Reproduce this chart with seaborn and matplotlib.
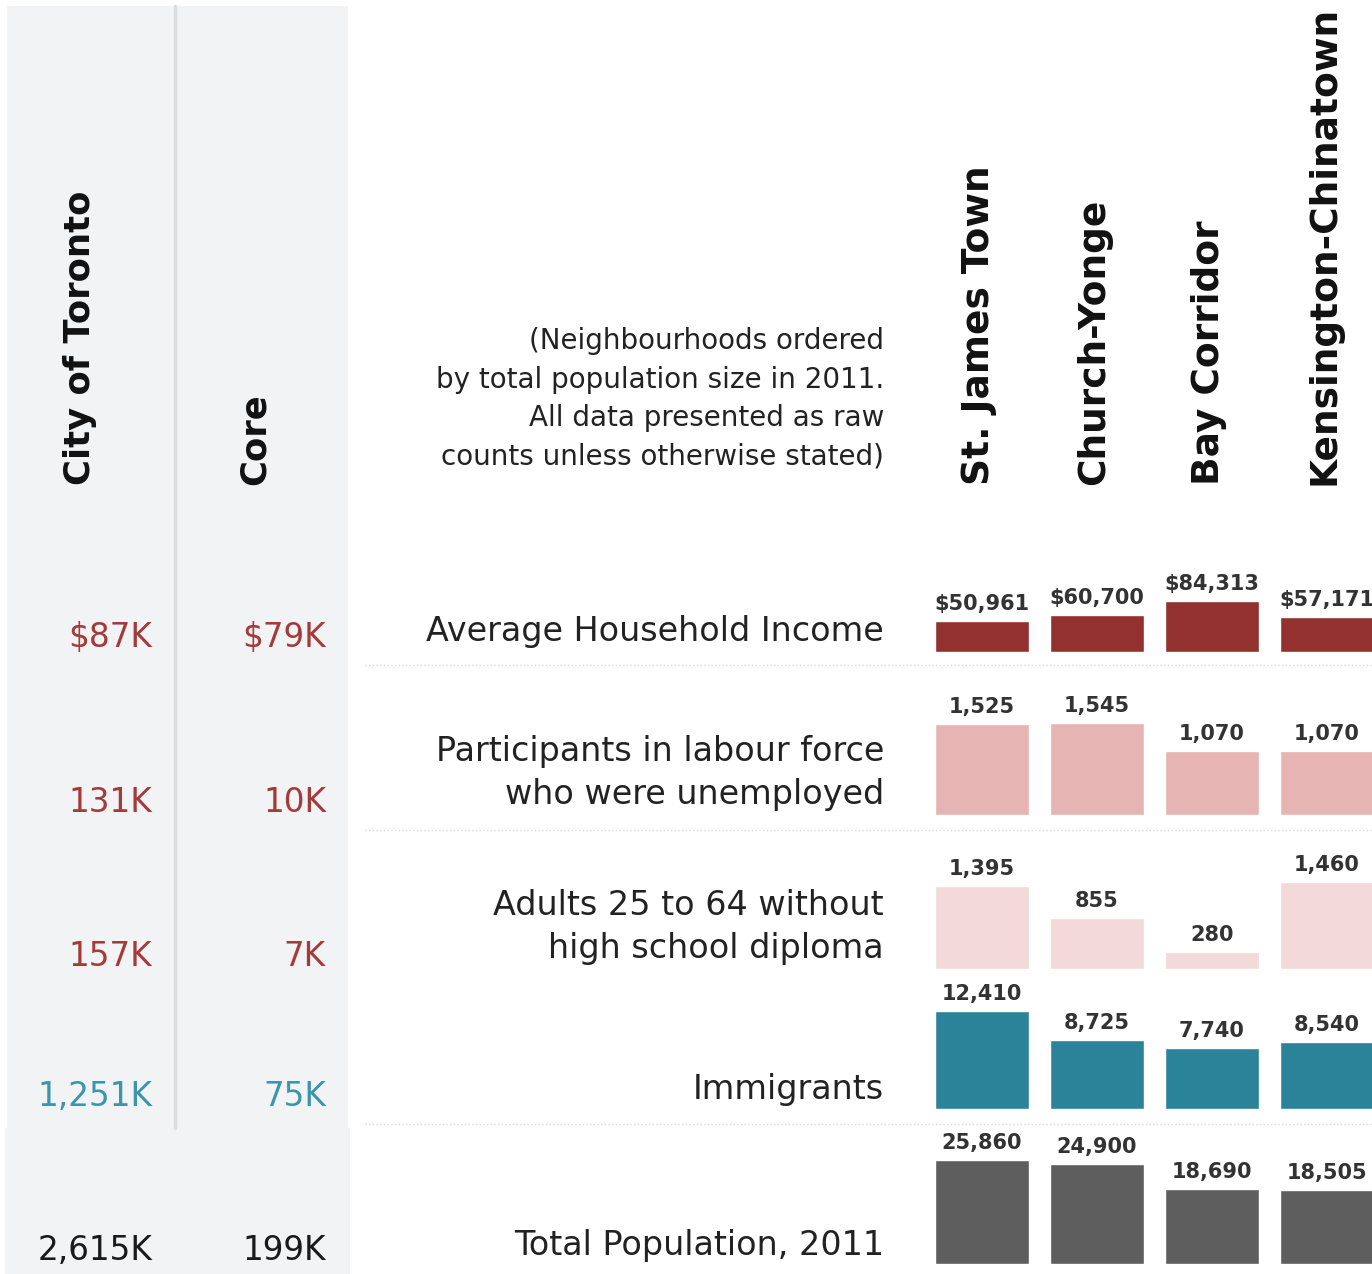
import matplotlib
matplotlib.use("Agg")
import matplotlib.pyplot as plt
import seaborn as sns
from matplotlib.patches import Rectangle

sns.set_theme(style="white")
plt.rcParams['font.family'] = ['DejaVu Sans']

# ---------------- data ----------------
neighbourhoods = ["St. James Town", "Church-Yonge", "Bay Corridor", "Kensington-Chinatown"]
row_labels = ["Average Household Income",
              "Participants in labour force\nwho were unemployed",
              "Adults 25 to 64 without\nhigh school diploma",
              "Immigrants",
              "Total Population, 2011"]
income = [50961, 60700, 84313, 57171]
unemployed = [1525, 1545, 1070, 1070]
no_diploma = [1395, 855, 280, 1460]
immigrants = [12410, 8725, 7740, 8540]
population = [25860, 24900, 18690, 18505]
city_values = ["$87K", "131K", "157K", "1,251K", "2,615K"]
core_values = ["$79K", "10K", "7K", "75K", "199K"]
col_headers = ["City of Toronto", "Core"]
note = ["(Neighbourhoods ordered", "by total population size in 2011.",
        "All data presented as raw", "counts unless otherwise stated)"]

W, H = 1372, 1274
fig = plt.figure(figsize=(W / 100, H / 100), dpi=100)
fig.patch.set_facecolor("white")

bg = fig.add_axes([0, 0, 1, 1])
bg.set_xlim(0, W)
bg.set_ylim(H, 0)
bg.axis("off")

grey = "#F2F3F5"
bg.add_patch(Rectangle((7, 6), 341, 1122, color=grey, lw=0))
bg.add_patch(Rectangle((5, 1128), 345, 146, color=grey, lw=0))
bg.plot([175, 175], [6, 1128], color="#DCDDDF", lw=2.5)

# column headers
bg.text(80, 485, col_headers[0], rotation=90, ha="center", va="bottom",
        fontsize=25.5, fontweight="bold", color="#111")
bg.text(255, 485, col_headers[1], rotation=90, ha="center", va="bottom",
        fontsize=25.5, fontweight="bold", color="#111")

col_x = [982, 1097, 1212, 1327]
for x, n in zip(col_x, neighbourhoods):
    bg.text(x - 3, 485, n, rotation=90, ha="center", va="bottom",
            fontsize=27, fontweight="bold", color="#111")

# note
for y, line in zip([341, 380, 418, 457], note):
    bg.text(884, y, line, ha="right", va="center", fontsize=20, color="#222")

# left values
red, teal, dark = "#A43B3A", "#3D95AB", "#1A1A1A"
val_colors = [red, red, red, teal, dark]
val_y = [637, 802, 957, 1097, 1251]
for y, cv, kv, c in zip(val_y, city_values, core_values, val_colors):
    bg.text(152, y, cv, ha="right", va="center", fontsize=23.5, color=c)
    bg.text(326, y, kv, ha="right", va="center", fontsize=23.5, color=c)

# row labels
lab_y = [632, 773, 927, 1090, 1245]
for y, lab in zip(lab_y, row_labels):
    bg.text(884, y, lab, ha="right", va="center", fontsize=24, color="#222",
            linespacing=1.35, multialignment="right")

# separators
for y in [665, 830, 1124]:
    bg.plot([365, W], [y, y], color="#DADADA", lw=1, ls=":")

# ---------------- bars ----------------
series = [income, unemployed, no_diploma, immigrants, population]
colors = ["#93312F", "#E6B5B3", "#F3D9D9", "#2B8399", "#5E5E5E"]
bottoms = [652, 815, 969, 1109, 1264]
tallest_px = [51, 92, 87, 98, 104]
pitch = 115
x0 = 982
ax_h = 140
for vals, c, b, tp, k in zip(series, colors, bottoms, tallest_px, range(5)):
    left_px = x0 - 0.5 * pitch
    ax = fig.add_axes([left_px / W, (H - b) / H, (W - left_px) / W, ax_h / H])
    ax.patch.set_alpha(0)
    sns.barplot(x=neighbourhoods, y=vals, color=c, width=0.82, saturation=1,
                ax=ax, errorbar=None)
    ax.set_xlim(-0.5, (W - x0) / pitch)
    ymax = max(vals) / tp * ax_h
    ax.set_ylim(0, ymax)
    ax.axis("off")
    if k == 0:
        labels = ["${:,}".format(v) for v in vals]
    else:
        labels = ["{:,}".format(v) for v in vals]
    ax.bar_label(ax.containers[0], labels=labels, padding=5, fontsize=15,
                 fontweight="bold", color="#333", clip_on=False)

fig.savefig("out.png", dpi=100, facecolor="white")
